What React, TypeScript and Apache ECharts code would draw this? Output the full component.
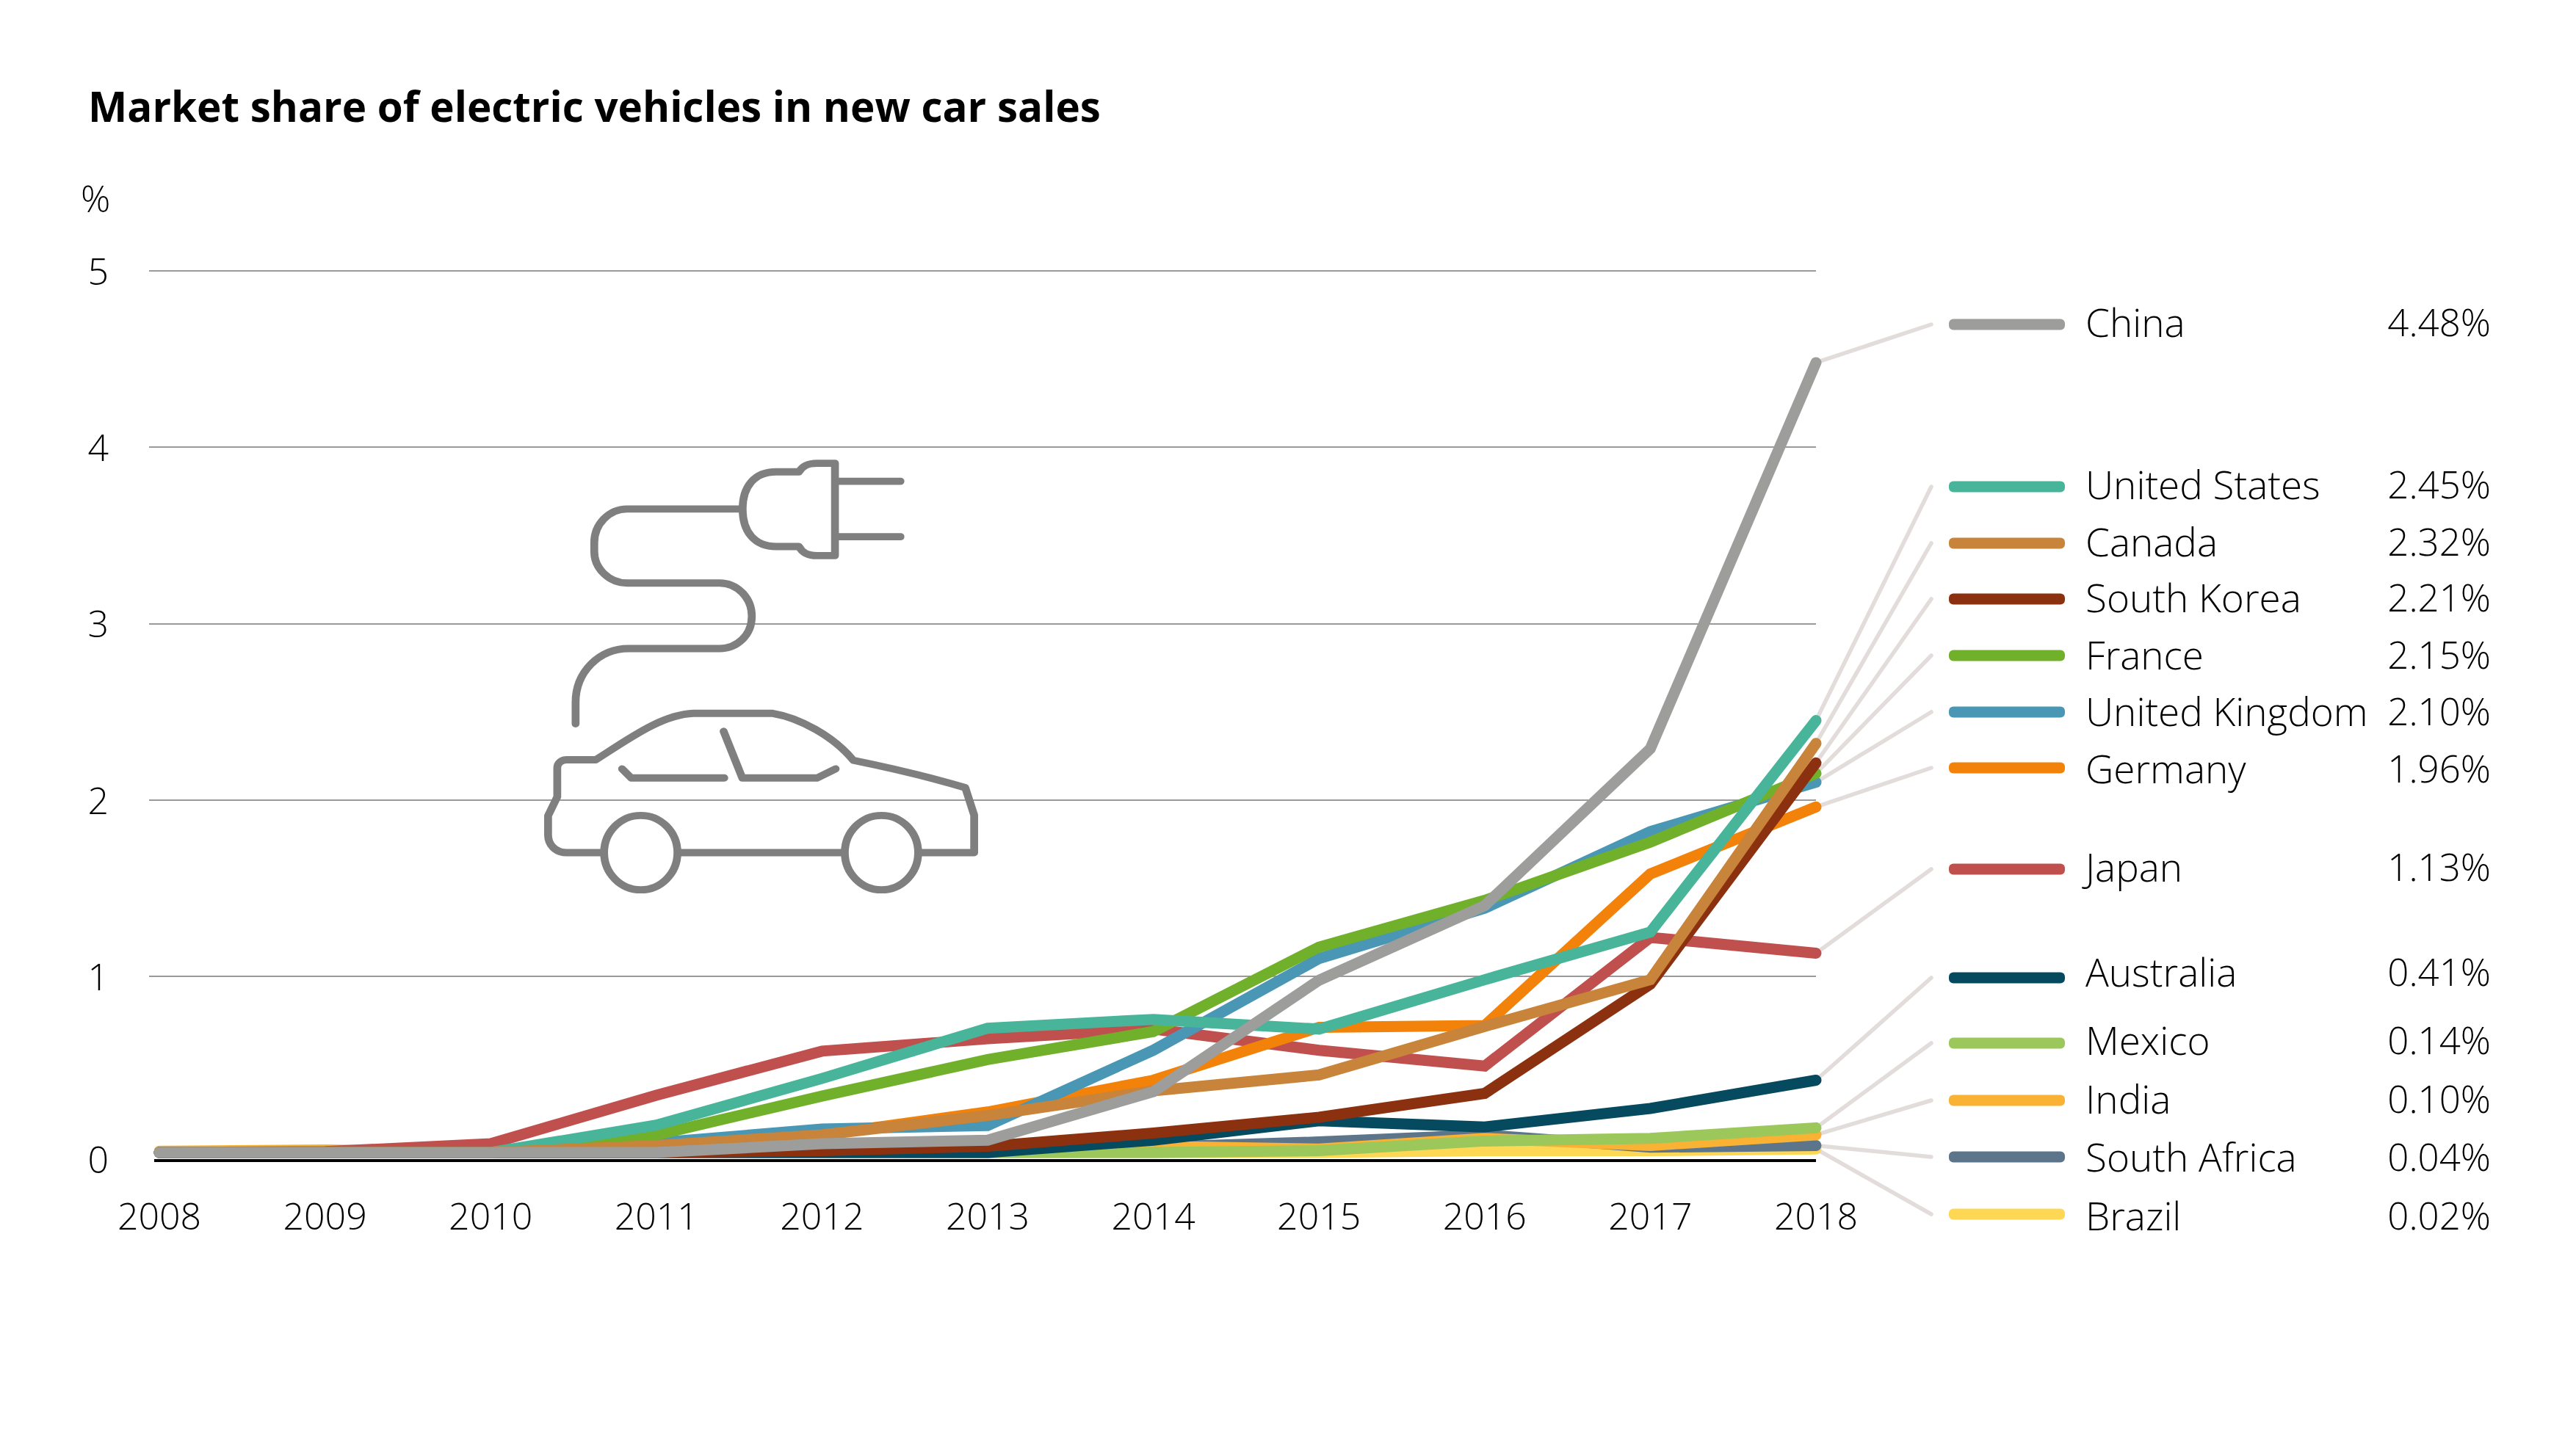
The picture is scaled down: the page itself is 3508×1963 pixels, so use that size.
import React, { useEffect, useRef } from "react";
import * as echarts from "echarts";

const title = "Market share of electric vehicles in new car sales";
const unit = "%";
const years = [2008, 2009, 2010, 2011, 2012, 2013, 2014, 2015, 2016, 2017, 2018];

const china = [0, 0, 0, 0, 0.05, 0.07, 0.345, 0.977, 1.4, 2.29, 4.48];
const unitedStates = [0, 0, 0, 0.155, 0.42, 0.705, 0.755, 0.7, 0.98, 1.25, 2.45];
const canada = [0, 0, 0, 0.04, 0.1, 0.21, 0.35, 0.44, 0.715, 0.98, 2.32];
const southKorea = [0, 0, 0, 0, 0.01, 0.035, 0.11, 0.2, 0.335, 0.955, 2.21];
const france = [0, 0, 0, 0.1, 0.32, 0.527, 0.686, 1.165, 1.43, 1.76, 2.15];
const unitedKingdom = [0, 0, 0, 0.055, 0.133, 0.153, 0.58, 1.1, 1.385, 1.82, 2.1];
const germany = [0, 0, 0, 0.02, 0.1, 0.23, 0.41, 0.71, 0.72, 1.58, 1.96];
const japan = [0, 0.005, 0.05, 0.325, 0.575, 0.645, 0.7, 0.58, 0.49, 1.22, 1.13];
const australia = [0, 0, 0, 0, 0, 0, 0.07, 0.18, 0.145, 0.25, 0.41];
const mexico = [0, 0, 0, 0, 0, 0, 0, 0.01, 0.065, 0.08, 0.14];
const india = [0.007, 0.015, 0, 0, 0, 0, 0.035, 0.02, 0.08, 0.04, 0.1];
const southAfrica = [0, 0, 0, 0, 0, 0, 0.03, 0.06, 0.1, 0.03, 0.04];
const brazil = [0, 0, 0, 0, 0, 0, 0, 0, 0.01, 0.01, 0.02];

// Legend rows, top to bottom.
const rowNames = ["China", "United States", "Canada", "South Korea", "France", "United Kingdom", "Germany", "Japan", "Australia", "Mexico", "India", "South Africa", "Brazil"];
const rowValues = [china, unitedStates, canada, southKorea, france, unitedKingdom, germany, japan, australia, mexico, india, southAfrica, brazil];
const rowLabels = ["4.48%", "2.45%", "2.32%", "2.21%", "2.15%", "2.10%", "1.96%", "1.13%", "0.41%", "0.14%", "0.10%", "0.04%", "0.02%"];
const rowColors = ["#9d9d9c", "#48b59b", "#c8843a", "#8c3110", "#71b02b", "#4a97b5", "#f28209", "#c0504d", "#064a60", "#9bc75b", "#f9b233", "#5c758a", "#fed754"];
const rowY = [442, 663, 740, 816, 893, 970, 1046, 1184, 1332, 1421, 1499, 1576, 1654];
const rowTextY = [438, 659, 737, 813, 891, 968, 1046, 1180, 1323, 1416, 1496, 1575, 1655];
// Paint order of the lines, bottom to top.
const paintOrder = ["Brazil", "South Africa", "India", "Mexico", "Australia", "Japan", "Germany", "United Kingdom", "France", "United States", "South Korea", "Canada", "China"];

const carPath =
  "M188,930 L188,860 C188,760 260,683 350,683 L628,683 C680,683 726,640 726,577 C726,515 680,468 628,468 L345,468 C290,468 245,420 245,365 L245,335 C245,275 290,225 345,225 L698,225 " +
  "M980,75 L925,75 C895,75 880,85 870,103 L800,103 C735,103 698,150 698,225 C698,300 735,348 800,348 L870,348 C880,368 895,378 925,378 L980,378 Z " +
  "M980,134 L1180,134 M980,316 L1180,316 " +
  "M275,1353 L160,1353 C125,1353 104,1325 104,1295 L104,1232 L132,1170 L132,1075 C132,1060 145,1048 160,1048 L250,1048 C350,980 450,900 548,896 L790,896 C870,910 975,970 1036,1050 C1150,1075 1270,1105 1378,1140 L1405,1230 L1405,1353 L1236,1353 " +
  "M500,1353 L1010,1353 " +
  "M275,1353 A112,122 0 1 1 499,1353 A112,122 0 1 1 275,1353 Z " +
  "M1010,1353 A112,122 0 1 1 1234,1353 A112,122 0 1 1 1010,1353 Z " +
  "M330,1078 L358,1108 L642,1108 " +
  "M640,955 L697,1108 L925,1108 L982,1078";
echarts.graphic.registerShape("carPlug", echarts.graphic.extendPath(carPath, {}));

const FONT = '"Open Sans", sans-serif';
const LIGHT = 300;
const TEXT_SIZE = 50;
const NAME_SIZE = 53;
const INK = "#000";

function buildOption() {
  const lastYear = years[years.length - 1];
  const lineSeries = paintOrder.map((name, k) => {
    const i = rowNames.indexOf(name);
    return {
      type: "line",
      name,
      z: 10 + k,
      symbol: "none",
      clip: false,
      data: years.map((y, j) => [y, rowValues[i][j]]),
      lineStyle: { color: rowColors[i], width: 15, cap: "round", join: "miter" },
    };
  });
  const keySeries = {
    type: "custom",
    z: 5,
    clip: false,
    silent: true,
    encode: { x: 0, y: 1 },
    data: rowNames.map((_, i) => [lastYear, rowValues[i][years.length - 1], rowY[i], i]),
    renderItem: (_: unknown, api: any) => {
      const p = api.coord([api.value(0), api.value(1)]);
      const ry = api.value(2);
      const i = api.value(3);
      return {
        type: "group",
        children: [
          {
            type: "line",
            shape: { x1: p[0], y1: p[1], x2: 2630, y2: ry },
            style: { stroke: "#e2dcda", lineWidth: 5.5, lineCap: "round" },
          },
          {
            type: "rect",
            shape: { x: 2654, y: ry - 7.5, width: 158, height: 15, r: 6 },
            style: { fill: rowColors[i] },
          },
        ],
      };
    },
  };
  const graphics: any[] = [
    { type: "line", z: 1, shape: { x1: 210, y1: 1581, x2: 2473, y2: 1581 }, style: { stroke: "#000", lineWidth: 4 } },
    {
      type: "carPlug",
      z: 2,
      x: 700,
      y: 600,
      scaleX: 1 / 2.24,
      scaleY: 1 / 2.412,
      style: { fill: "none", stroke: "#7f7f7f", lineWidth: 24, lineCap: "round", lineJoin: "round" },
    },
    {
      type: "text",
      x: 110,
      y: 270,
      style: { text: unit, font: `${LIGHT} 50px ${FONT}`, fill: INK, textAlign: "left", textVerticalAlign: "middle" },
    },
  ];
  rowNames.forEach((name, i) => {
    graphics.push({
      type: "text",
      x: 2840,
      y: rowTextY[i],
      style: { text: name, font: `${LIGHT} ${NAME_SIZE}px ${FONT}`, fill: INK, textAlign: "left", textVerticalAlign: "middle" },
    });
    graphics.push({
      type: "text",
      x: 3392,
      y: rowTextY[i],
      style: { text: rowLabels[i], font: `${LIGHT} 51px ${FONT}`, fill: INK, textAlign: "right", textVerticalAlign: "middle" },
    });
  });
  return {
    animation: false,
    backgroundColor: "#fff",
    title: {
      text: title,
      left: 115,
      top: 111,
      textStyle: { fontFamily: FONT, fontWeight: 700, fontSize: 56.5, color: "#000" },
    },
    grid: { left: 203, right: 1035, top: 369, height: 1201, containLabel: false },
    xAxis: {
      type: "value",
      min: 2008 - 14 / 225.6,
      max: lastYear,
      splitLine: { show: false },
      axisLine: { show: false },
      axisTick: { show: false },
      axisLabel: {
        customValues: years,
        margin: 61,
        formatter: (v: number) => String(Math.round(v)),
        fontFamily: FONT,
        fontWeight: LIGHT,
        fontSize: TEXT_SIZE,
        color: INK,
      },
    },
    yAxis: {
      type: "value",
      min: 0,
      max: 5,
      interval: 1,
      axisLine: { show: false },
      axisTick: { show: false },
      splitLine: { show: true, showMinLine: false, lineStyle: { color: "#9a9a9a", width: 2 } },
      axisLabel: {
        margin: 55,
        fontFamily: FONT,
        fontWeight: LIGHT,
        fontSize: TEXT_SIZE,
        color: INK,
        formatter: (v: number) => (v === 0 ? "{zero|0}" : String(v)),
        rich: { zero: { fontFamily: FONT, fontWeight: LIGHT, fontSize: TEXT_SIZE, color: INK, padding: [18, 0, 0, 0] } },
      },
    },
    graphic: graphics,
    series: [keySeries, ...lineSeries],
  };
}

export default function App() {
  const ref = useRef<HTMLDivElement>(null);
  useEffect(() => {
    document.body.style.margin = "0";
    const chart = echarts.init(ref.current!, undefined, { renderer: "svg" });
    chart.setOption(buildOption() as any);
    return () => chart.dispose();
  }, []);
  return <div ref={ref} style={{ width: 3508, height: 1963, overflow: "hidden" }} />;
}
